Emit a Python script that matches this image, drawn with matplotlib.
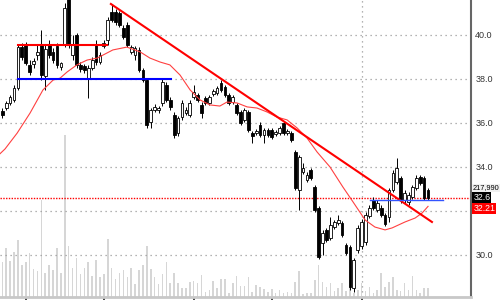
import numpy as np
import matplotlib
matplotlib.use("Agg")
import matplotlib.pyplot as plt
import matplotlib.transforms as mtransforms

plt.rcParams["font.family"] = ["Liberation Sans", "DejaVu Sans"]

# ── daily OHLC (price) ──────────────────────────────────────────────────────
opens = [36.55, 36.68, 36.91, 37.05, 37.59, 39.45, 39.55, 38.64, 38.68, 39.09,
         39.55, 38.14, 39.55, 39.23, 39.50, 38.55, 39.55, 41.68, 39.09, 40.00,
         38.64, 38.59, 38.05, 38.50, 39.55, 38.77, 39.50, 39.77, 41.05, 41.05,
         41.00, 40.32, 40.45, 39.23, 39.09, 39.32, 38.41, 37.95, 36.05, 36.59,
         36.59, 36.91, 37.73, 37.05, 36.36, 35.55, 36.27, 36.45, 36.36, 37.18,
         37.27, 36.82, 37.14, 36.91, 37.32, 37.36, 37.82, 37.64, 37.27, 36.95,
         36.82, 36.50, 36.14, 36.50, 35.55, 35.55, 35.91, 35.45, 35.68, 35.68,
         35.50, 35.55, 36.00, 35.55, 35.55, 34.68, 32.95, 33.77, 33.41, 33.86,
         33.09, 32.14, 30.55, 31.14, 30.77, 31.27, 31.45, 31.45, 30.45, 30.36,
         28.50, 30.23, 30.41, 30.59, 31.77, 32.50, 32.05, 32.14, 31.82, 31.73,
         32.95, 33.32, 33.50, 32.50, 32.41, 32.64, 33.05, 33.55, 33.50, 32.95]
closes = [36.36, 36.91, 37.18, 37.59, 39.45, 39.00, 38.73, 38.32, 38.82, 39.23,
          38.18, 39.36, 39.09, 38.86, 38.64, 38.73, 41.23, 39.55, 39.55, 38.64,
          38.45, 38.41, 38.50, 38.86, 38.77, 39.09, 39.64, 40.68, 40.68, 40.59,
          40.45, 39.91, 39.55, 39.45, 39.41, 38.41, 37.95, 35.91, 36.59, 36.73,
          36.68, 37.86, 37.05, 36.73, 35.45, 36.23, 36.91, 36.59, 36.91, 37.41,
          37.05, 36.45, 36.91, 37.18, 37.45, 37.59, 37.50, 37.27, 36.91, 37.18,
          36.45, 36.00, 36.59, 35.68, 35.41, 35.64, 35.45, 35.68, 35.45, 35.36,
          35.59, 35.77, 35.55, 35.64, 35.23, 33.05, 34.45, 33.95, 33.64, 33.50,
          32.05, 29.91, 31.00, 30.68, 31.36, 31.50, 31.59, 30.91, 30.09, 28.55,
          29.77, 31.23, 31.50, 31.82, 32.14, 32.14, 32.36, 31.82, 31.41, 32.95,
          33.73, 33.95, 32.50, 32.82, 32.73, 33.09, 33.50, 33.27, 32.59, 32.60]
highs = [36.68, 37.00, 37.27, 37.73, 39.59, 39.64, 39.68, 38.86, 38.95, 39.55,
         40.23, 39.55, 39.77, 39.41, 39.64, 38.77, 41.45, 41.82, 40.00, 40.09,
         38.77, 38.68, 38.64, 39.00, 39.77, 39.23, 39.77, 40.82, 41.36, 41.18,
         41.09, 40.45, 40.59, 39.55, 39.50, 39.45, 38.50, 38.05, 36.68, 36.86,
         36.77, 38.00, 37.86, 37.18, 36.50, 36.32, 37.05, 36.73, 37.05, 37.73,
         37.36, 36.95, 37.23, 37.27, 37.55, 37.68, 37.95, 37.73, 37.36, 37.27,
         36.91, 36.59, 36.68, 36.59, 35.64, 35.73, 36.05, 35.77, 35.77, 35.77,
         35.68, 35.86, 36.09, 35.73, 35.64, 34.77, 34.55, 34.18, 33.77, 33.95,
         33.18, 32.23, 31.14, 31.23, 31.73, 31.59, 31.82, 31.55, 30.55, 30.45,
         29.86, 31.36, 31.64, 31.95, 32.27, 32.64, 32.50, 32.27, 31.91, 33.05,
         33.86, 34.41, 33.59, 32.95, 32.86, 33.18, 33.64, 33.64, 33.59, 33.05]
lows = [36.23, 36.59, 36.82, 36.95, 37.50, 38.86, 38.64, 38.18, 38.50, 38.86,
        37.95, 37.50, 38.95, 38.73, 38.50, 38.41, 39.45, 39.41, 38.86, 38.50,
        38.32, 38.27, 37.14, 38.41, 38.64, 38.68, 39.41, 39.55, 40.59, 40.45,
        40.36, 39.82, 39.45, 39.14, 38.86, 38.32, 37.86, 35.77, 35.77, 36.50,
        36.45, 36.77, 36.95, 36.59, 35.32, 35.41, 36.14, 36.36, 36.27, 37.09,
        36.95, 36.23, 36.82, 36.82, 37.23, 37.27, 37.41, 37.18, 36.82, 36.86,
        36.36, 35.91, 36.05, 35.59, 35.09, 35.45, 35.36, 35.09, 35.36, 35.27,
        35.41, 35.45, 35.45, 35.45, 35.14, 32.95, 32.05, 33.68, 33.32, 33.41,
        31.95, 29.82, 30.00, 30.59, 30.68, 31.18, 31.36, 30.82, 30.00, 28.41,
        28.32, 30.09, 30.27, 30.45, 31.68, 32.05, 31.95, 31.73, 31.32, 31.50,
        32.86, 33.23, 32.36, 32.36, 32.27, 32.55, 32.95, 33.18, 32.50, 32.50]

# volume, thousands of shares
volume = [845, 1185, 870, 1090, 1380, 775, 845, 1065, 680, 630,
          2350, 580, 775, 655, 1185, 580, 3920, 1235, 700, 945,
          555, 700, 845, 510, 895, 485, 555, 1405, 700, 435,
          580, 655, 485, 700, 315, 655, 775, 1235, 680, 485,
          315, 555, 845, 340, 580, 340, 220, 220, 365, 385,
          340, 530, 120, 170, 385, 220, 435, 435, 100, 340,
          510, 265, 265, 485, 120, 290, 240, 195, 120, 195,
          100, 170, 100, 120, 100, 365, 630, 75, 100, 100,
          410, 775, 365, 240, 340, 145, 220, 340, 145, 240,
          100, 170, 340, 145, 240, 100, 170, 580, 240, 365,
          485, 170, 145, 340, 170, 510, 170, 100, 220, 217.99]

# moving average
ma_idx = [-0.6, 0.7, 3.8, 7.1, 10.4, 13.0, 14.8, 16.6, 19.1, 21.7, 24.3, 28.3,
          31.9, 35.3, 37.8, 40.4, 42.9, 45.5, 48.1, 50.6, 53.2, 55.7, 57.5,
          60.1, 62.7, 65.2, 67.8, 70.3, 72.9, 75.5, 78.0, 80.6, 83.9, 87.2,
          89.8, 92.9, 95.4, 98.0, 99.8, 103.1, 105.7, 107.5, 109.0]
ma_val = [34.60, 34.82, 35.54, 36.45, 37.50, 37.95, 38.04, 38.32, 38.64, 38.86,
          38.95, 39.32, 39.45, 39.23, 38.95, 38.77, 38.64, 38.18, 37.50, 37.05,
          36.82, 36.77, 36.95, 36.91, 36.73, 36.68, 36.50, 36.27, 36.14, 35.77,
          35.32, 34.68, 34.00, 33.09, 32.41, 31.59, 31.27, 31.14, 31.23, 31.50,
          31.68, 31.91, 32.21]

# drawn lines
resist_x, resist_y = [4.0, 26.8], [39.53, 39.53]
support_x, support_y = [4.0, 43.2], [38.0, 38.0]
trend_x, trend_y = [27.8, 110.0], [41.41, 31.5]
break_x, break_y = [94.2, 112.9], [32.5, 32.5]

price_ticks = [30.0, 32.0, 34.0, 36.0, 38.0, 40.0]
date_ticks = [6.1, 26.0, 49.1, 69.1, 92.1]

idx = np.arange(len(closes))
o, c, h, l = map(np.array, (opens, closes, highs, lows))

fig = plt.figure(figsize=(5, 3), dpi=100)
ax = fig.add_axes([0, 0.01, 0.942, 0.99])
axv = ax.twinx()

# volume behind the price panel
axv.bar(idx, volume, width=0.4, color="#d6d6d6", linewidth=0)
axv.set_ylim(0, 7190)
axv.set_yticks([])
for s in axv.spines.values():
    s.set_visible(False)
ax.set_zorder(axv.get_zorder() + 1)
ax.patch.set_visible(False)

ax.set_xlim(-0.59, 120.0)
ax.set_ylim(28.09, 41.59)

# grid
for p in price_ticks:
    ax.axhline(p, color="#9a9a9a", lw=0.9, ls=(0, (1, 3)), zorder=1)
ax.axvline(92.1, color="#9a9a9a", lw=0.9, ls=(0, (1, 3)), zorder=1)

# candles
up = c >= o
ax.vlines(idx, l, h, color="black", lw=0.7, zorder=3)
body = np.maximum(np.abs(c - o), 0.04)
ax.bar(idx[up], body[up], bottom=o[up], width=0.7, color="white",
       edgecolor="black", linewidth=0.6, zorder=4)
ax.bar(idx[~up], body[~up], bottom=c[~up], width=0.7, color="black",
       edgecolor="black", linewidth=0.6, zorder=4)

# indicators and drawings
ax.plot(ma_idx, ma_val, color="#ff4040", lw=0.8, zorder=5)
ax.plot(resist_x, resist_y, color="#ff0000", lw=1.5, zorder=6)
ax.plot(support_x, support_y, color="#0000ff", lw=1.5, zorder=6)
ax.plot(trend_x, trend_y, color="#ff0000", lw=1.5, zorder=6)
ax.plot(break_x, break_y, color="#3355ff", lw=1.0, zorder=6)
ax.axhline(closes[-1], color="#ff0000", lw=1.0, ls=(0, (1, 1)), zorder=2)

# axes styling
for side in ("top", "left"):
    ax.spines[side].set_visible(False)
ax.spines["right"].set_color("#666666")
ax.spines["right"].set_linewidth(1.5)
ax.spines["bottom"].set_color("#c8c8c8")
ax.spines["bottom"].set_linewidth(2)

ax.yaxis.tick_right()
ax.set_yticks(price_ticks)
ax.set_yticklabels([f"{p:.1f}" for p in price_ticks], fontsize=6.5, color="#333333")
ax.tick_params(axis="y", length=0, pad=3)
ax.set_xticks(date_ticks)
ax.set_xticklabels([])
ax.tick_params(axis="x", direction="out", length=2.5, width=1.2, color="#222222")

# last-value tags on the right
tr = mtransforms.blended_transform_factory(ax.transAxes, ax.transData)
ax.text(1.003, 33.05, f"{volume[-1] * 1000:,.0f}", transform=tr, fontsize=5.3,
        va="center", ha="left", color="black", zorder=10, clip_on=False,
        bbox=dict(boxstyle="square,pad=0.05", fc="#f0f0f0", ec="none"))
ax.text(1.005, closes[-1], f"{closes[-1]:.1f}", transform=tr, fontsize=6.3,
        va="center", ha="left", color="white", zorder=10, clip_on=False,
        bbox=dict(boxstyle="square,pad=0.1", fc="black", ec="none"))
ax.text(1.005, ma_val[-1] - 0.1, f"{ma_val[-1]:.2f}", transform=tr, fontsize=6.3,
        va="center", ha="left", color="white", zorder=10, clip_on=False,
        bbox=dict(boxstyle="square,pad=0.1", fc="#ff0000", ec="none"))

fig.savefig("out.png", dpi=100)
